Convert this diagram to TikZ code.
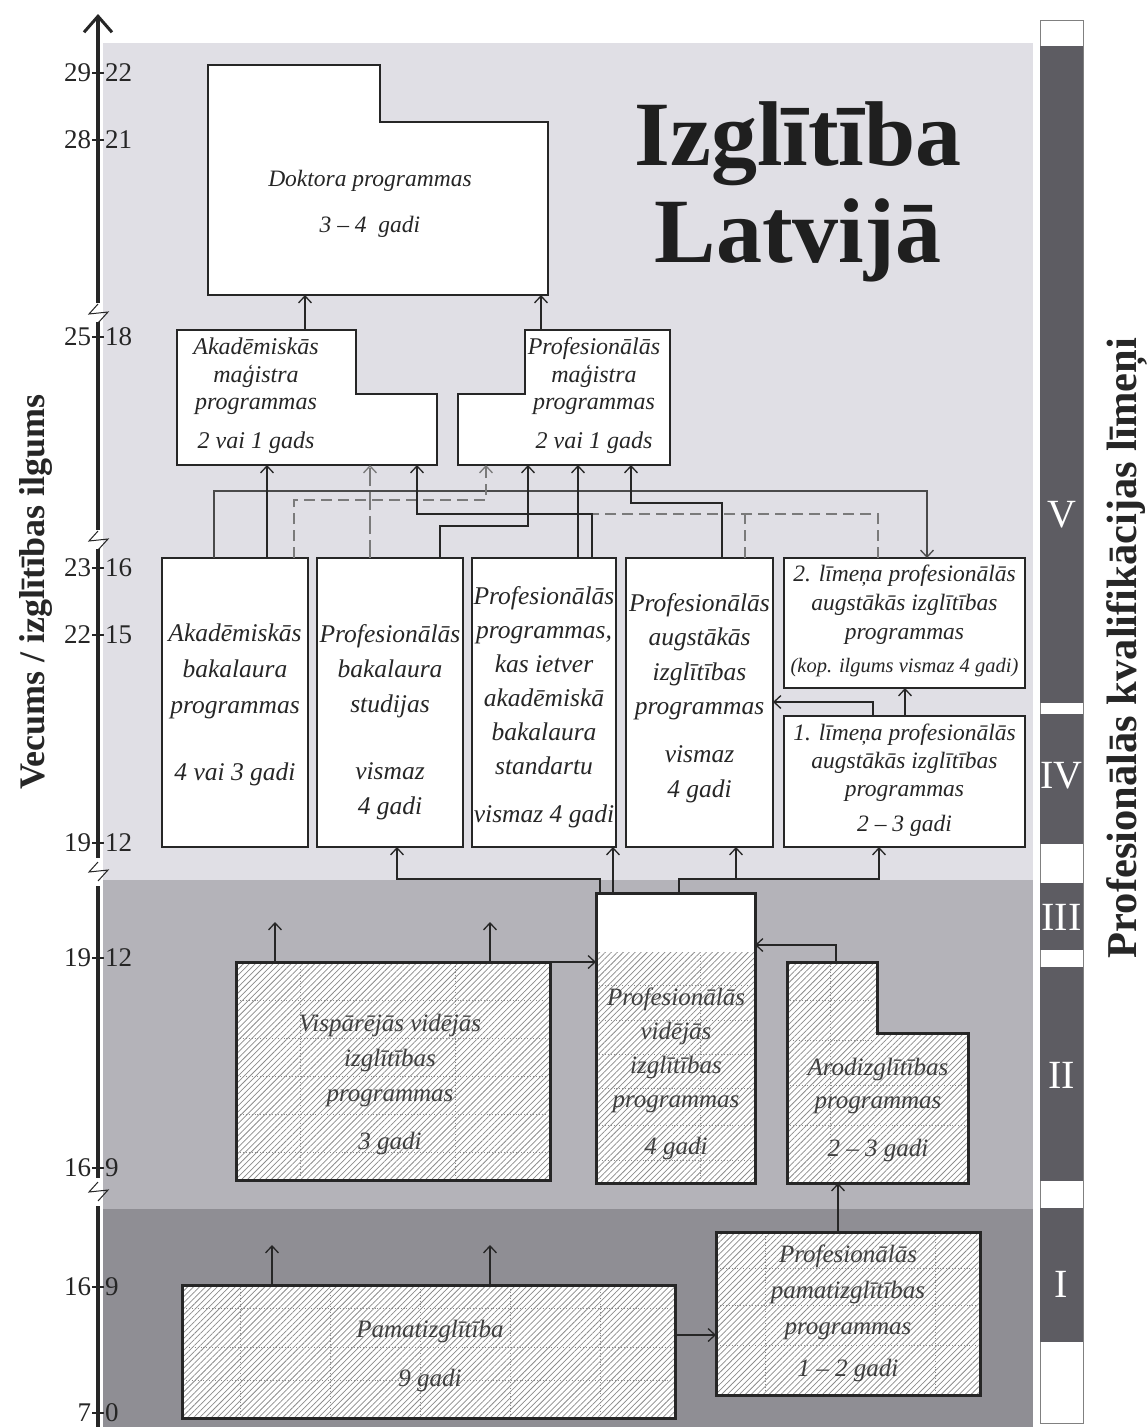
\documentclass[tikz,border=0pt]{standalone}
\usepackage{fontspec}
\setmainfont{Liberation Serif}
\usetikzlibrary{arrows.meta,patterns.meta}

\definecolor{zoneV}{HTML}{E0DFE5}
\definecolor{zoneII}{HTML}{B4B3B9}
\definecolor{zoneI}{HTML}{8F8E94}
\definecolor{levelbar}{HTML}{5D5C62}
\definecolor{ink}{HTML}{262626}
\definecolor{wire}{HTML}{4A4A4A}
\definecolor{dashwire}{HTML}{7A7A7A}
\definecolor{hatchink}{HTML}{8C8C8C}
\definecolor{gridink}{HTML}{8A8A8A}

\tikzset{
  every node/.style={inner sep=0pt, outer sep=0pt},
  frame/.style={inner sep=0pt, outer sep=0pt},
  plainbox/.style={draw=ink, line width=2.4pt, fill=white},
  hatched/.style={preaction={fill=white}, pattern={Lines[angle=45,distance=4.2pt,line width=0.75pt]}, pattern color=hatchink},
  hatchbox/.style={hatched, draw=ink, line width=3pt},
  lbl/.style={align=center, text=ink},
  hlbl/.style={align=center, text=black!75},
  arrowhd/.style={-{Straight Barb[length=7pt,width=13pt,line width=1.3pt]}},
  link/.style={draw=ink, line width=1.5pt},
  thinlink/.style={draw=wire, line width=1.1pt},
  dashlink/.style={draw=dashwire, line width=1.6pt, dash pattern=on 11pt off 6pt},
  longdash/.style={draw=dashwire, line width=1.4pt, dash pattern=on 18pt off 6pt},
  axisline/.style={draw=ink, line width=3.2pt},
  zig/.style={draw=ink, line width=1pt},
  axisnum/.style={text=ink, font=\fontsize{27}{27}\selectfont},
  roman/.style={text=white, font=\fontsize{40}{40}\selectfont},
  gridline/.style={draw=gridink, line width=0.9pt, dotted},
}

\begin{document}
\begin{tikzpicture}[x=1pt,y=-1pt]
\useasboundingbox (0,0) rectangle (1146,1427);

% background zones
\fill[zoneV]  (103,43)   rectangle (1033,880);
\fill[zoneII] (103,880)  rectangle (1033,1209);
\fill[zoneI]  (103,1209) rectangle (1033,1427);

% qualification level bar
\draw[gray, line width=1pt, fill=white] (1040,20) rectangle (1083,1423);
\fill[levelbar] (1040,46)   rectangle (1083,703);
\fill[levelbar] (1040,714)  rectangle (1083,844);
\fill[levelbar] (1040,883)  rectangle (1083,950);
\fill[levelbar] (1040,967)  rectangle (1083,1181);
\fill[levelbar] (1040,1208) rectangle (1083,1342);
\node[roman] (lvV)   at (1061.5,515)  {V};
\node[roman] (lvIV)  at (1061.5,776)  {IV};
\node[roman] (lvIII) at (1061.5,917)  {III};
\node[roman] (lvII)  at (1061.5,1075) {II};
\node[roman] (lvI)   at (1061.5,1284) {I};

% side captions
\node[rotate=90, text=ink, font=\bfseries\fontsize{36}{36}\selectfont] (agecap) at (36,592) {Vecums / izglītības ilgums};
\node[rotate=90, text=ink, font=\bfseries\fontsize{42.5}{42.5}\selectfont] (levcap) at (1127,648) {Profesionālās kvalifikācijas līmeņi};

% title
\node[anchor=base, text=black!88, font=\bfseries\fontsize{92}{92}\selectfont] (ttl1) at (798,165) {Izglītība};
\node[anchor=base, text=black!88, font=\bfseries\fontsize{92}{92}\selectfont] (ttl2) at (798,262) {Latvijā};

% age axis with breaks
\draw[axisline, -{Straight Barb[length=16pt,width=28pt,line width=3pt]}] (98,303) -- (98,14);
\draw[axisline] (98,322) -- (98,530);
\draw[axisline] (98,549) -- (98,858);
\draw[axisline] (98,886) -- (98,1178);
\draw[axisline] (98,1206) -- (98,1427);
\foreach \z in {304,531,862,1182}
  \draw[zig] (98,\z) -- (89,\z+10) -- (108,\z+8) -- (98,\z+19);
\foreach \a/\b/\y [count=\i] in {29/22/73, 28/21/140, 25/18/337, 23/16/568, 22/15/635,
    19/12/843, 19/12/958, 16/9/1168, 16/9/1287, 7/0/1413} {
  \draw[ink, line width=1.5pt] (92,\y) -- (104,\y);
  \node[axisnum, anchor=east] (agel\i) at (91,\y) {\a};
  \node[axisnum, anchor=west] (ager\i) at (105,\y) {\b};
}

% doctoral programmes
\node[frame, minimum width=340, minimum height=230] (dok) at (378,180) {};
\draw[plainbox] (208,65) -- (380,65) -- (380,122) -- (548,122) -- (548,295) -- (208,295) -- cycle;
\node[lbl, font=\itshape\fontsize{23.5}{46}\selectfont] (dokt) at (370,204) {Doktora programmas\\3 – 4\ \ gadi};

% master programmes
\node[frame, minimum width=260, minimum height=135] (am) at (307,397.5) {};
\draw[plainbox] (177,330) -- (356,330) -- (356,394) -- (437,394) -- (437,465) -- (177,465) -- cycle;
\node[lbl, font=\itshape\fontsize{24}{27.5}\selectfont] (amt) at (256,396) {Akadēmiskās\\maģistra\\programmas\\[11.5pt]2 vai 1 gads};

\node[frame, minimum width=212, minimum height=135] (pm) at (564,397.5) {};
\draw[plainbox] (458,394) -- (525,394) -- (525,330) -- (670,330) -- (670,465) -- (458,465) -- cycle;
\node[lbl, font=\itshape\fontsize{24}{27.5}\selectfont] (pmt) at (594,396) {Profesionālās\\maģistra\\programmas\\[11.5pt]2 vai 1 gads};

% bachelor level programmes
\node[plainbox, minimum width=146, minimum height=289] (b1) at (235,702.5) {};
\node[plainbox, minimum width=146, minimum height=289] (b2) at (390,702.5) {};
\node[plainbox, minimum width=144, minimum height=289] (b3) at (544,702.5) {};
\node[plainbox, minimum width=147, minimum height=289] (b4) at (699.5,702.5) {};
\node[plainbox, minimum width=241, minimum height=130] (b5) at (904.5,623) {};
\node[plainbox, minimum width=241, minimum height=131] (b6) at (904.5,781.5) {};

\node[lbl, font=\itshape\fontsize{25.5}{36}\selectfont] (b1t) at (235,705)
  {Akadēmiskās\\bakalaura\\programmas\\[31pt]4 vai 3 gadi};
\node[lbl, font=\itshape\fontsize{25.5}{35}\selectfont] (b2t) at (390,722)
  {Profesionālās\\bakalaura\\studijas\\[32pt]vismaz\\4 gadi};
\node[lbl, font=\itshape\fontsize{25.5}{34}\selectfont] (b3t) at (544,707)
  {Profesionālās\\programmas,\\kas ietver\\akadēmiskā\\bakalaura\\standartu\\[14pt]vismaz 4 gadi};
\node[lbl, font=\itshape\fontsize{25.5}{34.5}\selectfont] (b4t) at (699.5,698)
  {Profesionālās\\augstākās\\izglītības\\programmas\\[13.5pt]vismaz\\4 gadi};
\node[lbl, font=\itshape\fontsize{23.5}{29}\selectfont] (b5t) at (904.5,621)
  {2. līmeņa profesionālās\\augstākās izglītības\\programmas\\[4pt]{\fontsize{20.5}{20.5}\selectfont(kop. ilgums vismaz 4 gadi)}};
\node[lbl, font=\itshape\fontsize{23.5}{28}\selectfont] (b6t) at (904.5,780)
  {1. līmeņa profesionālās\\augstākās izglītības\\programmas\\[7pt]2 – 3 gadi};

% secondary programmes
\node[hatchbox, minimum width=314, minimum height=218] (vis) at (393,1071) {};
\foreach \gy in {1000,1038,1076,1114,1152} \draw[gridline] (240,\gy) -- (546,\gy);
\foreach \gx in {300,455} \draw[gridline] (\gx,966) -- (\gx,1176);
\node[hlbl, font=\itshape\fontsize{25}{35}\selectfont] (vist) at (390,1084)
  {Vispārējās vidējās\\izglītības\\programmas\\[13pt]3 gadi};

\node[frame, minimum width=159, minimum height=290] (pvi) at (675.5,1038) {};
\fill[white] (596,893) rectangle (755,952);
\fill[hatched] (596,952) rectangle (755,1183);
\foreach \gy in {985,1020,1054,1088,1125,1160} \draw[gridline] (599,\gy) -- (752,\gy);
\draw[gridline] (700,955) -- (700,1180);
\draw[draw=ink, line width=3pt] (pvi.north west) rectangle (pvi.south east);
\node[hlbl, font=\itshape\fontsize{25}{34}\selectfont] (pvit) at (676,1074)
  {Profesionālās\\vidējās\\izglītības\\programmas\\[13pt]4 gadi};

\node[frame, minimum width=181, minimum height=221] (aro) at (877.5,1072.5) {};
\draw[hatchbox] (787,962) -- (877,962) -- (877,1033) -- (968,1033) -- (968,1183) -- (787,1183) -- cycle;
\foreach \gy in {1000,1040} \draw[gridline] (790,\gy) -- (874,\gy);
\foreach \gy in {1085,1125} \draw[gridline] (790,\gy) -- (965,\gy);
\draw[gridline] (830,966) -- (830,1180);
\node[hlbl, font=\itshape\fontsize{25}{33}\selectfont] (arot) at (878,1110)
  {Arodizglītības\\programmas\\[15pt]2 – 3 gadi};

% basic education
\node[hatchbox, minimum width=493, minimum height=133] (pam) at (428.5,1351.5) {};
\foreach \gy in {1308,1347,1380} \draw[gridline] (186,\gy) -- (671,\gy);
\foreach \gx in {240,330,420,510,600} \draw[gridline] (\gx,1289) -- (\gx,1414);
\node[hlbl, font=\itshape\fontsize{25}{49}\selectfont] (pamt) at (430,1356)
  {Pamatizglītība\\9 gadi};

\node[hatchbox, minimum width=264, minimum height=163] (ppam) at (848,1313.5) {};
\foreach \gy in {1268,1305,1345} \draw[gridline] (720,\gy) -- (976,\gy);
\foreach \gx in {765,935} \draw[gridline] (\gx,1236) -- (\gx,1391);
\node[hlbl, font=\itshape\fontsize{25}{36}\selectfont] (ppamt) at (848,1313)
  {Profesionālās\\pamatizglītības\\programmas\\[6pt]1 – 2 gadi};

% free arrow ends and junctions
\coordinate (visup1) at (275,922);
\coordinate (visup2) at (490,922);
\coordinate (pamup1) at (272,1245);
\coordinate (pamup2) at (490,1245);
\coordinate (lowjoin) at (736,879);
\coordinate (dashjoin) at (592,514);
\coordinate (dashjoin2) at (745,514);

% doctoral entry
\draw[link, arrowhd] (am.north -| 305,0) -- (dok.south -| 305,0);
\draw[link, arrowhd] (pm.north -| 541,0) -- (dok.south -| 541,0);

% bachelor to master routes
\draw[thinlink, arrowhd] (b1.north -| 214,0) -- (214,491) -| (b5.north -| 927,0);
\draw[link, arrowhd] (b1.north -| 267,0) -- (am.south -| 267,0);
\draw[dashlink, arrowhd] (b1.north -| 294,0) -- (294,500) -| (pm.south -| 486,0);
\draw[longdash, arrowhd] (b2.north -| 370,0) -- (am.south -| 370,0);
\draw[dashlink] (b5.north -| 878,0) -- (878,514) -- (dashjoin);
\draw[dashlink] (b4.north -| 745,0) -- (dashjoin2);
\draw[link, arrowhd] (b3.north -| 592,0) -- (dashjoin) -| (am.south -| 417,0);
\draw[dashlink, draw=ink, line width=2pt] (dashjoin) -- (417,514);
\draw[link, arrowhd] (b2.north -| 440,0) -- (440,526) -| (pm.south -| 528,0);
\draw[link, arrowhd] (b3.north -| 578,0) -- (pm.south -| 578,0);
\draw[link, arrowhd] (b4.north -| 722,0) -- (722,503) -| (pm.south -| 631,0);
\draw[link, arrowhd] (b6.north -| 905,0) -- (b5.south -| 905,0);
\draw[link, arrowhd] (b6.north -| 873,0) -- (873,702) -- (b4.east |- 0,702);

% secondary to higher education
\draw[link, arrowhd] (pvi.north -| 600,0) -- (600,879) -| (b2.south -| 397,0);
\draw[link, arrowhd] (pvi.north -| 613,0) -- (b3.south -| 613,0);
\draw[link, arrowhd] (pvi.north -| 679,0) -- (679,879) -| (b6.south -| 879,0);
\draw[link, arrowhd] (lowjoin) -- (b4.south -| 736,0);
\draw[link, arrowhd] (vis.north -| 275,0) -- (visup1);
\draw[link, arrowhd] (vis.north -| 490,0) -- (visup2);
\draw[link, arrowhd] (vis.north east) -- (pvi.west |- vis.north east);
\draw[link, arrowhd] (aro.north -| 836,0) -- (836,945) -- (pvi.east |- 0,945);

% basic education routes
\draw[link, arrowhd] (ppam.north -| 838,0) -- (aro.south -| 838,0);
\draw[link, arrowhd] (pam.north -| 272,0) -- (pamup1);
\draw[link, arrowhd] (pam.north -| 490,0) -- (pamup2);
\draw[link, arrowhd] (pam.east |- 0,1335) -- (ppam.west |- 0,1335);
\end{tikzpicture}
\end{document}
